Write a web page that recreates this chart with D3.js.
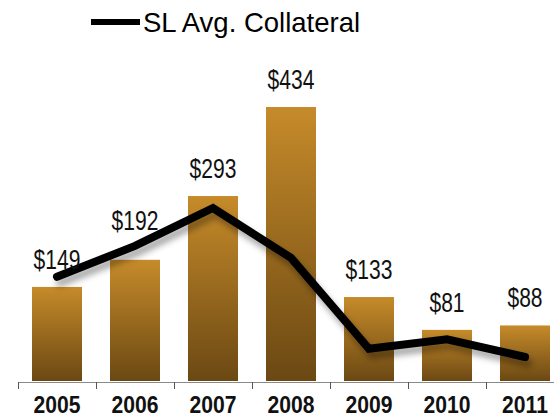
<!DOCTYPE html>
<html><head><meta charset="utf-8">
<script src="https://cdn.jsdelivr.net/npm/d3@7"></script>
<style>html,body{margin:0;padding:0;background:#fff;overflow:hidden}</style>
</head><body>
<script>
const years = ["2005","2006","2007","2008","2009","2010","2011"];
const barValues = [149,192,293,434,133,81,88];
const barLabels = ["$149","$192","$293","$434","$133","$81","$88"];
const lineValues = [165,214,274,195,51,66,38];
const legendLabel = "SL Avg. Collateral";

const W=554,H=417;
const svg=d3.select("body").append("svg").attr("width",W).attr("height",H);
const defs=svg.append("defs");
const g1=defs.append("linearGradient").attr("id","barGrad").attr("x1",0).attr("y1",0).attr("x2",0).attr("y2",1);
g1.append("stop").attr("offset","0%").attr("stop-color","#C68B2A");
g1.append("stop").attr("offset","100%").attr("stop-color","#6B4813");
const f=defs.append("filter").attr("id","shadow").attr("x","-20%").attr("y","-20%").attr("width","140%").attr("height","160%");
f.append("feDropShadow").attr("dx",3).attr("dy",6).attr("stdDeviation",3).attr("flood-color","#000").attr("flood-opacity",0.35);

const x=d3.scaleBand().domain(years).range([18,18+78*7]).paddingInner(28/78).paddingOuter(14/78);
const y=d3.scaleLinear().domain([0,434]).range([381,107]);
const narrow="'Liberation Sans',Arial,sans-serif";

// bars
svg.selectAll("rect.bar").data(years).enter().append("rect")
  .attr("x",d=>x(d)).attr("width",x.bandwidth())
  .attr("y",(d,i)=>y(barValues[i])).attr("height",(d,i)=>y(0)-y(barValues[i]))
  .attr("fill","url(#barGrad)");

// axis
const step=x.step();
const ax=svg.append("g");
ax.append("line").attr("x1",18).attr("x2",W).attr("y1",382.5).attr("y2",382.5).attr("stroke","#8a8a8a").attr("stroke-width",1);
ax.selectAll("line.tick").data(d3.range(years.length+1)).enter().append("line")
  .attr("x1",i=>18+i*step+0.5).attr("x2",i=>18+i*step+0.5).attr("y1",382).attr("y2",389)
  .attr("stroke","#555").attr("stroke-width",1);
ax.selectAll("text.year").data(years).enter().append("text")
  .attr("transform",d=>`translate(${x(d)+x.bandwidth()/2},413) scale(0.88,1)`)
  .attr("text-anchor","middle")
  .style("font-family",narrow)
  .style("font-size","24px").style("font-weight","bold").attr("fill","#111").text(d=>d);

// line
const line=d3.line().x((d,i)=>x(years[i])+x.bandwidth()/2).y(d=>y(d));
svg.append("path").datum(lineValues).attr("d",line).attr("fill","none")
  .attr("stroke","#000").attr("stroke-width",8).attr("stroke-linecap","round").attr("stroke-linejoin","miter")
  .attr("filter","url(#shadow)");

// value labels: above the bar, or above the line where the line sits well above the bar
const labelY=i=>{
  const above=lineValues[i]-barValues[i]>20;
  return above ? Math.min(y(barValues[i])-18, y(lineValues[i])-16) : y(barValues[i])-18;
};
svg.selectAll("text.val").data(years).enter().append("text")
  .attr("transform",(d,i)=>`translate(${x(d)+x.bandwidth()/2},${labelY(i)}) scale(0.78,1)`)
  .attr("text-anchor","middle")
  .style("font-family",narrow)
  .style("font-size","27px").attr("fill","#111").text((d,i)=>barLabels[i]);

// legend
svg.append("line").attr("x1",91).attr("x2",140).attr("y1",22).attr("y2",22).attr("stroke","#000").attr("stroke-width",6);
svg.append("text").attr("x",143).attr("y",32)
  .style("font-family","'Liberation Sans',Arial,sans-serif").style("font-size","27.5px").attr("fill","#000").text(legendLabel);
</script>
</body></html>
